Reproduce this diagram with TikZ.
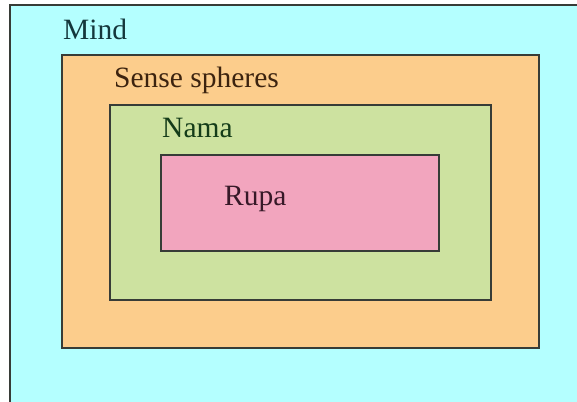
\documentclass[tikz,border=0pt]{standalone}
\usepackage{fontspec}
\setmainfont{Liberation Serif}
\definecolor{mindfill}{RGB}{180,255,255}
\definecolor{sensefill}{RGB}{252,205,140}
\definecolor{namafill}{RGB}{205,226,160}
\definecolor{rupafill}{RGB}{242,165,190}
\definecolor{edge}{RGB}{55,60,55}
\begin{document}
\begin{tikzpicture}[x=1pt,y=-1pt,
  zone/.style={draw=edge,line width=1.6pt},
  label/.style={anchor=base west,inner sep=0pt,font=\fontsize{29.5}{32}\selectfont}]
\useasboundingbox (0,0) rectangle (577,401);
\fill[white] (0,0) rectangle (577,401);
\clip (0,0) rectangle (577,401);
% nested regions
\filldraw[zone,fill=mindfill] (10,5) rectangle (600,420);
\filldraw[zone,fill=sensefill] (62,55) rectangle (539,348);
\filldraw[zone,fill=namafill] (110,105) rectangle (491,300);
\filldraw[zone,fill=rupafill] (161,155) rectangle (439,251);
% labels
\node[label,text={rgb,255:red,20;green,55;blue,60}] (mind) at (63,40) {Mind};
\node[label,text={rgb,255:red,60;green,35;blue,15}] (sense) at (114,88) {Sense spheres};
\node[label,text={rgb,255:red,20;green,60;blue,25}] (nama) at (162,137) {Nama};
\node[label,text={rgb,255:red,55;green,25;blue,40}] (rupa) at (224,205) {Rupa};
\end{tikzpicture}
\end{document}
